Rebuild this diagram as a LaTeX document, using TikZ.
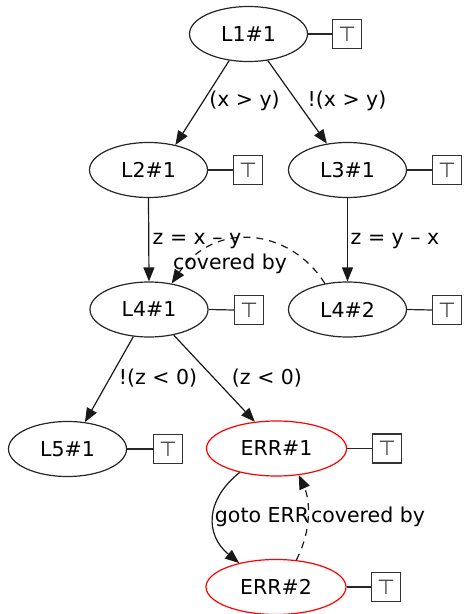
\documentclass[tikz,border=0pt]{standalone}
\usepackage{fontspec}
\setmainfont{DejaVu Sans}
\usetikzlibrary{arrows.meta,shapes.geometric}
\begin{document}
\begin{tikzpicture}[x=1bp,y=-1bp,
  every node/.style={font=\fontsize{20.5bp}{24bp}\selectfont},
  state/.style={ellipse,draw=black!85,line width=1.2bp,inner sep=0pt,
                minimum width=118bp,minimum height=55bp},
  errstate/.style={state,draw=red,minimum width=140bp},
  topbox/.style={draw=black!80,line width=1.2bp,minimum size=29bp,inner sep=0pt,
                 text=black!75},
  tie/.style={draw=black!85,line width=1.2bp},
  edge/.style={draw=black!90,line width=1.2bp,-{Triangle[length=14bp,width=11bp]}},
  cover/.style={edge,dash pattern=on 7bp off 6bp},
  lbl/.style={inner sep=0pt}]
\useasboundingbox (0,0) rectangle (464,614);

% states
\node[state] (L1)  at (248.5,34)  {L1\#1};
\node[state] (L2)  at (148.5,170) {L2\#1};
\node[state] (L3)  at (347.5,170) {L3\#1};
\node[state] (L4a) at (149,309.5) {L4\#1};
\node[state] (L4b) at (347.5,309.5) {L4\#2};
\node[state] (L5)  at (67.5,449)  {L5\#1};
\node[errstate] (E1) at (276.5,448.5) {ERR\#1};
\node[errstate] (E2) at (276,587) {ERR\#2};

% top-element boxes
\node[topbox] (T1)  at (347,34)   {⊤};
\node[topbox] (T2)  at (248,170)  {⊤};
\node[topbox] (T3)  at (447,170)  {⊤};
\node[topbox] (T4a) at (249,310)  {⊤};
\node[topbox] (T4b) at (447,310)  {⊤};
\node[topbox] (T5)  at (168,449)  {⊤};
\node[topbox] (TE1) at (387,448.5){⊤};
\node[topbox] (TE2) at (386,587)  {⊤};

\foreach \s/\t in {L1/T1,L2/T2,L3/T3,L4a/T4a,L4b/T4b,L5/T5,E1/TE1,E2/TE2}
  \draw[tie] (\s.east) -- (\t.west);

% transitions
\draw[edge] (L1.234) -- (L2.43);
\draw[edge] (L1.306) -- (L3.128);
\draw[edge] (L2.south) -- (L4a.north);
\draw[edge] (L3.south) -- (L4b.north);
\draw[edge] (L4a.240) -- (L5.57);
\draw[edge] (L4a.314) -- (E1.129);
\draw[edge] (E1.213) .. controls (205,500) and (205,535) .. (E2.147);

% coverage
\draw[cover] (L4b.131) .. controls (290,228) and (215,220) .. (L4a.49);
\draw[cover] (E2.53) .. controls (312,530) and (310,500) .. (E1.310);

% labels
\node[lbl] at (244.5,101) {(x > y)};
\node[lbl] at (347,101)   {!(x > y)};
\node[lbl] at (197,241)   {z = x – y};
\node[lbl] at (395,241)   {z = y – x};
\node[lbl] at (230,264)   {covered by};
\node[lbl] at (158,378)   {!(z < 0)};
\node[lbl] at (267,378)   {(z < 0)};
\node[lbl] at (262,517)   {goto ERR};
\node[lbl] at (368,517)   {covered by};
\end{tikzpicture}
\end{document}
